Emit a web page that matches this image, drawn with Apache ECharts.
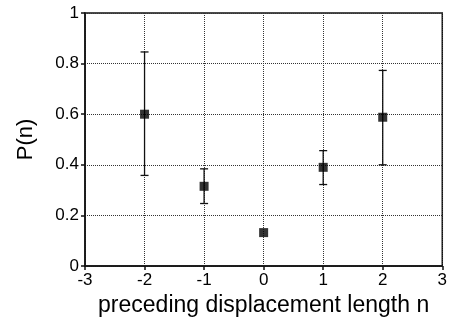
<!DOCTYPE html>
<html>
<head>
<meta charset="utf-8">
<script src="https://cdn.jsdelivr.net/npm/echarts@6/dist/echarts.min.js"></script>
<style>
html, body { margin: 0; padding: 0; background: #fff; }
#chart { width: 450px; height: 322px; }
</style>
</head>
<body>
<div id="chart"></div>
<script>
// preceding displacement length n
const nList = [-2, -1, 0, 1, 2];
const pList = [0.6, 0.315, 0.132, 0.39, 0.588];
const errLow = [0.358, 0.247, 0.132, 0.322, 0.4];
const errHigh = [0.846, 0.384, 0.132, 0.456, 0.773];

const points = nList.map((n, i) => [n, pList[i]]);
const bars = nList.map((n, i) => [n, errLow[i], errHigh[i]]);

const chart = echarts.init(document.getElementById('chart'));
const font = 'Liberation Sans, Arial, sans-serif';

chart.setOption({
    animation: false,
    grid: {
        left: 85,
        right: 4,
        top: 13,
        bottom: 54,
        show: true,
        borderColor: '#111',
        borderWidth: 1.5,
        backgroundColor: 'transparent'
    },
    xAxis: {
        type: 'value',
        min: -3,
        max: 3,
        interval: 1,
        name: 'preceding displacement length n',
        nameLocation: 'middle',
        nameGap: 28,
        nameTextStyle: { fontFamily: font, fontSize: 23, color: '#000' },
        axisLine: { onZero: false, lineStyle: { color: '#111', width: 1.5 } },
        axisTick: { length: 4, lineStyle: { color: '#111', width: 1.5 } },
        axisLabel: { fontFamily: font, fontSize: 17, color: '#000', margin: 6 },
        splitLine: { lineStyle: { color: '#333', type: 'dotted', width: 1 } }
    },
    yAxis: {
        type: 'value',
        min: 0,
        max: 1,
        interval: 0.2,
        name: 'P(n)',
        nameLocation: 'middle',
        nameGap: 48,
        nameTextStyle: { fontFamily: font, fontSize: 22, color: '#000' },
        axisLine: { show: true, onZero: false, lineStyle: { color: '#111', width: 1.5 } },
        axisTick: { show: true, length: 4, lineStyle: { color: '#111', width: 1.5 } },
        axisLabel: { fontFamily: font, fontSize: 17, color: '#000', margin: 6 },
        splitLine: { lineStyle: { color: '#333', type: 'dotted', width: 1 } }
    },
    series: [
        {
            type: 'custom',
            data: bars,
            renderItem: function (params, api) {
                const x = api.value(0);
                const lo = api.coord([x, api.value(1)]);
                const hi = api.coord([x, api.value(2)]);
                if (Math.abs(hi[1] - lo[1]) < 1) return null;
                const w = 4;
                const style = { stroke: '#111', lineWidth: 1.3 };
                return {
                    type: 'group',
                    children: [
                        { type: 'line', shape: { x1: lo[0], y1: lo[1], x2: hi[0], y2: hi[1] }, style: style },
                        { type: 'line', shape: { x1: lo[0] - w, y1: lo[1], x2: lo[0] + w, y2: lo[1] }, style: style },
                        { type: 'line', shape: { x1: hi[0] - w, y1: hi[1], x2: hi[0] + w, y2: hi[1] }, style: style }
                    ]
                };
            },
            z: 3
        },
        {
            type: 'scatter',
            data: points,
            symbol: 'rect',
            symbolSize: 9,
            itemStyle: { color: '#000' },
            z: 4
        }
    ]
});
</script>
</body>
</html>
